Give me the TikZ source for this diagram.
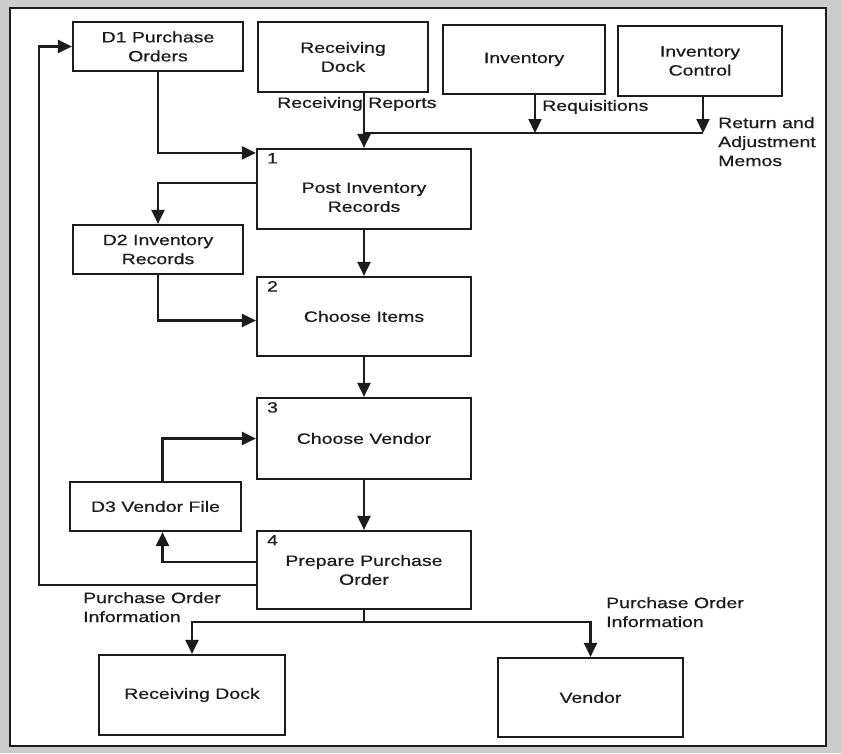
\documentclass[tikz,border=0pt]{standalone}
\usepackage{fontspec}
\setmainfont[FakeStretch=1.3,FakeBold=0.6]{Liberation Sans}
\usetikzlibrary{arrows.meta,calc}
\definecolor{ink}{HTML}{1C1C1C}
\definecolor{scan}{HTML}{CCCCCC}

\begin{document}
\begin{tikzpicture}[x=1pt,y=-1pt,font=\fontsize{15}{19}\selectfont,
box/.style={draw=ink,line width=2.2pt,align=center,inner sep=4pt,text=ink},
procnum/.style={label={[anchor=north west,xshift=6pt,inner sep=5pt,text=ink]north west:#1}},
flow/.style={draw=ink,line width=2.2pt,-{Triangle[length=14pt,width=13pt]}},
wire/.style={draw=ink,line width=2.2pt},
note/.style={align=left,inner sep=0pt,text=ink}]
\fill[scan] (0,0) rectangle (841,753);
\draw[ink,line width=2.2pt,fill=white] (10,8) rectangle (826,746);
\node[box,minimum width=170pt,minimum height=49pt] (po) at (158,46.5) {D1 Purchase\\Orders};
\node[box,minimum width=170pt,minimum height=70pt] (recdock) at (343,57) {Receiving\\Dock};
\node[box,minimum width=162pt,minimum height=69pt] (inv) at (524,59.5) {Inventory};
\node[box,minimum width=164pt,minimum height=70pt] (invctl) at (700,61) {Inventory\\Control};
\node[box,procnum=1,minimum width=214pt,minimum height=80pt] (post) at (364,189) {\rule{0pt}{27pt}Post Inventory\\Records};
\node[box,minimum width=170pt,minimum height=49pt] (d2) at (158,249.5) {D2 Inventory\\Records};
\node[box,procnum=2,minimum width=214pt,minimum height=79pt] (items) at (364,316.5) {Choose Items};
\node[box,procnum=3,minimum width=214pt,minimum height=81pt] (vsel) at (364,438.5) {Choose Vendor};
\node[box,minimum width=171pt,minimum height=49pt] (d3) at (155.5,506.5) {D3 Vendor File};
\node[box,procnum=4,minimum width=214pt,minimum height=78pt] (prep) at (364,570) {Prepare Purchase\\Order};
\node[box,minimum width=186pt,minimum height=80pt] (rdock2) at (192,695) {Receiving Dock};
\node[box,minimum width=185pt,minimum height=79pt] (vendor) at (590.5,697.5) {Vendor};
\node[note,anchor=west] (rrlbl) at (277,104) {Receiving Reports};
\node[note,anchor=west] (reqlbl) at (542,107) {Requisitions};
\node[note,anchor=north west] (memolbl) at (718,117) {Return and\\Adjustment\\Memos};
\node[note,anchor=north west] (poil) at (83,592) {Purchase Order\\Information};
\node[note,anchor=north west] (poir) at (606,597) {Purchase Order\\Information};
\coordinate (mergeR) at (703,133);
\coordinate (reqpt) at (535,133);
\draw[flow] (recdock.south -| post.north) -- (post.north);
\draw[wire] (post.north |- mergeR) -- (mergeR);
\draw[flow] (inv.south -| reqpt) -- (reqpt);
\draw[flow] (invctl.south -| mergeR) -- (mergeR);
\draw[flow] (po.south) |- ($(post.north west)+(0,5)$);
\draw[flow] ($(post.west)+(0,-6)$) -| (d2.north);
\draw[flow] (post.south) -- (items.north);
\draw[flow] (d2.south) |- ($(items.west)+(0,4)$);
\draw[flow] (items.south) -- (vsel.north);
\draw[flow] ([xshift=7pt]d3.north) |- (vsel.west);
\draw[flow] (vsel.south) -- (prep.north);
\draw[flow] ($(prep.west)+(0,-8)$) -| ([xshift=7pt]d3.south);
\draw[flow] ($(prep.west)+(0,15)$) -| ($(po.west)+(-33,0)$) -- (po.west);
\draw[wire] (prep.south) -- ++(0,12) coordinate (split);
\draw[flow] (split) -| (rdock2.north);
\draw[flow] (split) -| (vendor.north);
\end{tikzpicture}
\end{document}
